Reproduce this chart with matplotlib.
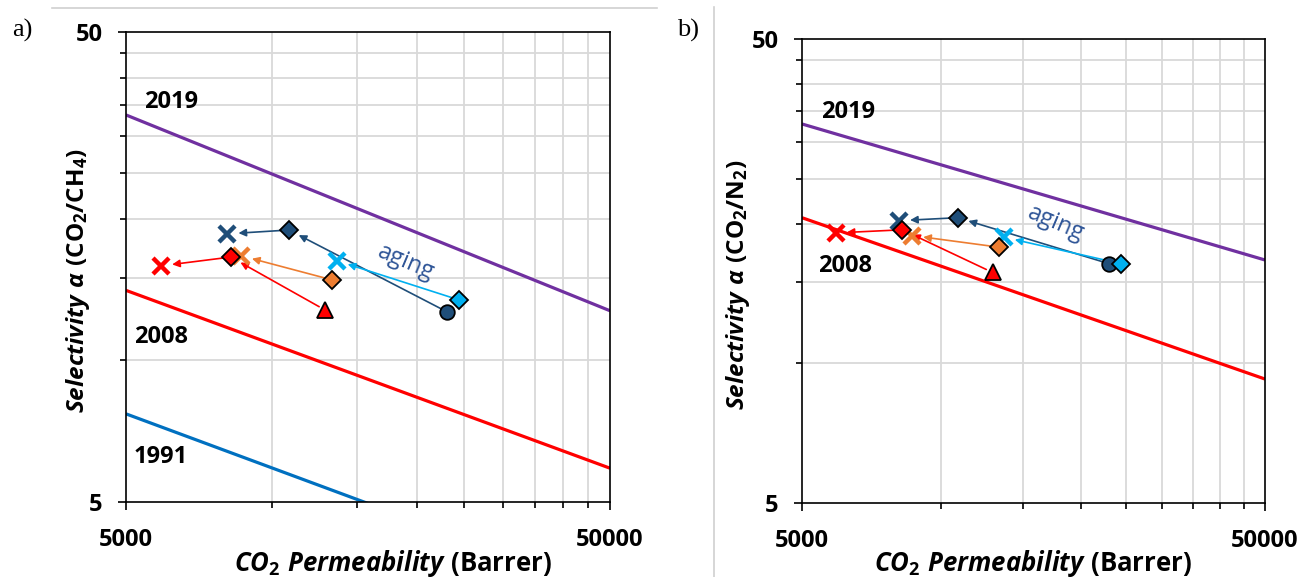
import matplotlib
matplotlib.use('Agg')
import matplotlib.pyplot as plt
from matplotlib.lines import Line2D
from matplotlib.ticker import NullFormatter

plt.rcParams['font.family'] = ['Open Sans', 'DejaVu Sans']
plt.rcParams['mathtext.fontset'] = 'custom'
plt.rcParams['mathtext.rm'] = 'Open Sans:bold'
plt.rcParams['mathtext.bf'] = 'Open Sans:bold'
plt.rcParams['mathtext.it'] = 'Open Sans:italic:bold'

# CO2 permeability (Barrer) of each film, same in both panels
perm_co2 = [23000, 24400, 13650, 10850, 8100, 13300, 8650, 12900, 8230, 5910]
# selectivities read for the same films
sel_ch4 = [12.7, 13.45, 16.3, 18.95, 18.6, 14.85, 16.7, 12.8, 16.6, 15.9]
sel_n2 = [16.4, 16.4, 18.7, 20.6, 20.3, 17.8, 18.85, 15.7, 19.4, 19.1]

# aging steps: (from, to) indices into the arrays above
aging_steps = [(0, 3), (3, 4), (1, 2), (5, 6), (7, 8), (8, 9)]

# upper bounds, selectivity at 5000 and 50000 Barrer
bound_perm = [5000, 50000]
ch4_bounds = {'2019': [33.3, 12.76], '2008': [14.1, 5.9], '1991': [7.7, 3.2]}
n2_bounds = {'2019': [32.8, 16.7], '2008': [20.6, 9.25]}

x_minor = [10000, 15000, 20000, 25000, 30000, 35000, 40000, 45000]
y_minor = [10, 15, 20, 25, 30, 35, 40, 45]

DBLUE = '#1F4E79'
LBLUE = '#00B0F0'
ORANGE = '#ED7D31'
RED = '#FF0000'
marker_style = [('o', DBLUE), ('D', LBLUE), ('x', LBLUE), ('D', DBLUE), ('x', DBLUE),
                ('D', ORANGE), ('x', ORANGE), ('^', RED), ('D', RED), ('x', RED)]
bound_color = {'2019': '#7030A0', '2008': '#FF0000', '1991': '#0070C0'}


def draw_panel(ax, sel, bounds, ylabel, labels, aging_pos, ylab_x, xlab_x):
    ax.set_xscale('log')
    ax.set_yscale('log')
    ax.set_xlim(5000, 50000)
    ax.set_ylim(5, 50)

    for year, vals in bounds.items():
        ax.plot(bound_perm, vals, color=bound_color[year], lw=2.3, zorder=2,
                solid_capstyle='butt')

    for a, b in aging_steps:
        c = marker_style[b][1]
        ax.annotate('', xy=(perm_co2[b], sel[b]), xytext=(perm_co2[a], sel[a]),
                    arrowprops=dict(arrowstyle='-|>', color=c, lw=1.2,
                                    mutation_scale=11, shrinkA=5, shrinkB=8),
                    zorder=3)

    for p, s, (m, c) in zip(perm_co2, sel, marker_style):
        if m == 'x':
            ax.plot(p, s, m, color=c, ms=12, mew=3.2, zorder=4)
        else:
            size = {'o': 10.5, 'D': 9.5, '^': 11.5}[m]
            ax.plot(p, s, m, color=c, mec='black', mew=1.3, ms=size, zorder=4)

    for year, (tx, ty) in labels.items():
        ax.text(tx, ty, year, transform=ax.transAxes, ha='center', va='center',
                fontsize=17, fontweight='bold')
    ax.text(aging_pos[0], aging_pos[1], 'aging', transform=ax.transAxes,
            ha='center', va='center', fontsize=17, color='#2F5597', rotation=-23)

    ax.set_xticks([5000, 50000], labels=['5000', '50000'])
    ax.set_yticks([5, 50], labels=['5', '50'])
    ax.set_xticks(x_minor, minor=True)
    ax.set_yticks(y_minor, minor=True)
    ax.xaxis.set_minor_formatter(NullFormatter())
    ax.yaxis.set_minor_formatter(NullFormatter())
    for lab in ax.get_xticklabels() + ax.get_yticklabels():
        lab.set_fontweight('bold')
        lab.set_fontsize(17)
    ax.tick_params(which='major', length=6, width=1.2, pad=11)
    ax.tick_params(which='minor', length=4.5, width=1.2)
    ax.tick_params(axis='x', which='major', pad=13)
    ax.grid(which='minor', color='#D9D9D9', lw=1.3)
    ax.set_axisbelow(True)
    for sp in ax.spines.values():
        sp.set_linewidth(1.2)

    ax.set_ylabel(ylabel, fontsize=17.5)
    ax.yaxis.set_label_coords(ylab_x, 0.47)
    ax.yaxis.label.set_verticalalignment('center')
    ax.set_xlabel(r'$\mathit{CO_2\ Permeability}\ \mathrm{(Barrer)}$', fontsize=18.5)
    ax.xaxis.set_label_coords(xlab_x, -0.13)
    ax.xaxis.label.set_verticalalignment('center')


fig = plt.figure(figsize=(13.04, 5.77), dpi=100)
ax_a = fig.add_axes([0.0966, 0.130, 0.3712, 0.8146])
ax_b = fig.add_axes([0.6150, 0.1282, 0.3551, 0.8042])

draw_panel(ax_a, sel_ch4, ch4_bounds,
           r'$\mathit{Selectivity\ \alpha}\ \mathrm{(CO_2/CH_4)}$',
           {'2019': (0.093, 0.850), '2008': (0.072, 0.351), '1991': (0.072, 0.096)},
           (0.579, 0.509), -0.099, 0.552)
draw_panel(ax_b, sel_n2, n2_bounds,
           r'$\mathit{Selectivity\ \alpha}\ \mathrm{(CO_2/N_2)}$',
           {'2019': (0.099, 0.843), '2008': (0.093, 0.511)},
           (0.549, 0.603), -0.138, 0.5)

fig.text(22 / 1304, 1 - 30 / 577, 'a)', family='Liberation Serif', fontsize=19,
         ha='center', va='center')
fig.text(688 / 1304, 1 - 30 / 577, 'b)', family='Liberation Serif', fontsize=19,
         ha='center', va='center')

# thin frame lines around the panels
fig.add_artist(Line2D([52 / 1304, 657 / 1304], [1 - 7.5 / 577] * 2,
                      transform=fig.transFigure, color='#D0D0D0', lw=1.2))
fig.add_artist(Line2D([714 / 1304] * 2, [1 - 7 / 577, 0],
                      transform=fig.transFigure, color='#D0D0D0', lw=1.2))

fig.savefig('out.png', dpi=100, facecolor='white')
